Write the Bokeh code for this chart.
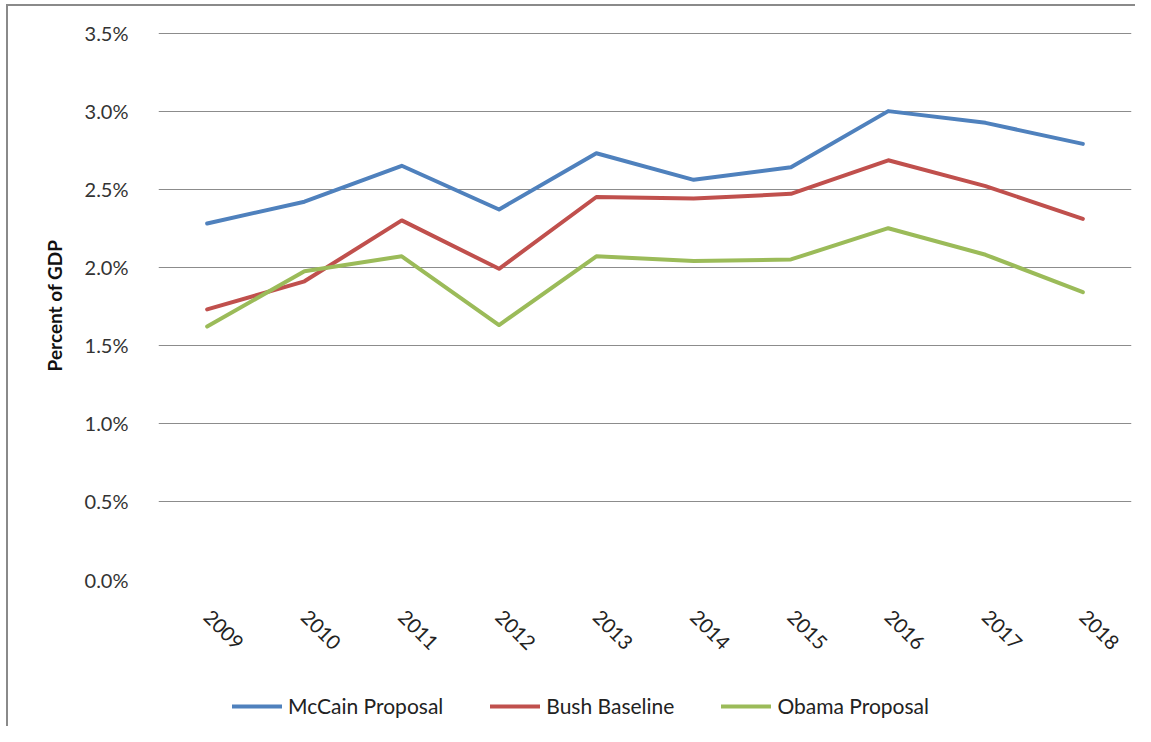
import math
from bokeh.plotting import figure
from bokeh.layouts import column
from bokeh.models import (FactorRange, Range1d, FixedTicker, PrintfTickFormatter,
                          Legend, LegendItem)
from bokeh.embed import file_html
from bokeh.resources import INLINE

years = ["2009", "2010", "2011", "2012", "2013", "2014", "2015", "2016", "2017", "2018"]
mccain = [2.28, 2.42, 2.65, 2.37, 2.73, 2.56, 2.64, 3.00, 2.925, 2.79]
bush = [1.73, 1.91, 2.30, 1.99, 2.45, 2.44, 2.47, 2.685, 2.52, 2.31]
obama = [1.62, 1.975, 2.07, 1.63, 2.07, 2.04, 2.05, 2.25, 2.08, 1.84]
y_ticks = [0.0, 0.5, 1.0, 1.5, 2.0, 2.5, 3.0, 3.5]
series_names = ["McCain Proposal", "Bush Baseline", "Obama Proposal"]
colors = ["#4F81BD", "#C0504D", "#9BBB59"]

FONT = "Lato"
FRAME_CSS = "linear-gradient(#8a8a8a,#8a8a8a)"

p = figure(width=1135, height=670, output_backend="svg", toolbar_location=None,
           x_range=FactorRange(factors=years, range_padding=0),
           y_range=Range1d(0, 3.51),
           min_border_left=158, min_border_right=4, min_border_top=31,
           min_border_bottom=91)
p.styles = {
    "background-image": FRAME_CSS + ", " + FRAME_CSS,
    "background-size": "2px 100%, 100% 2px",
    "background-position": "6px 4px, 6px 4px",
    "background-repeat": "no-repeat",
}

p.outline_line_color = None
p.background_fill_color = "white"
p.border_fill_alpha = 0

# grid
p.xgrid.grid_line_color = None
p.ygrid.grid_line_color = "#8c8c8c"
p.ygrid.grid_line_width = 1
p.ygrid.ticker = FixedTicker(ticks=y_ticks)

# y axis
p.yaxis.ticker = FixedTicker(ticks=y_ticks)
p.yaxis.formatter = PrintfTickFormatter(format="%.1f%%")
p.yaxis.axis_line_color = None
p.yaxis.major_tick_line_color = None
p.yaxis.minor_tick_line_color = None
p.yaxis.major_label_standoff = 24
p.yaxis.major_label_text_font = FONT
p.yaxis.major_label_text_font_size = "20px"
p.yaxis.major_label_text_color = "#333333"
p.yaxis.axis_label = "Percent of GDP"
p.yaxis.axis_label_text_font = FONT
p.yaxis.axis_label_text_font_size = "19px"
p.yaxis.axis_label_text_font_style = "bold"
p.yaxis.axis_label_text_color = "#111111"
p.yaxis.axis_label_standoff = 16

# x axis
p.xaxis.axis_line_color = None
p.xaxis.major_tick_line_color = None
p.xaxis.minor_tick_line_color = None
p.xaxis.major_label_orientation = -math.pi / 4
p.xaxis.major_label_standoff = 28
p.xaxis.major_label_text_font = FONT
p.xaxis.major_label_text_font_size = "20px"
p.xaxis.major_label_text_color = "#222222"

for name, vals, c in zip(series_names, [mccain, bush, obama], colors):
    p.line(x=years, y=vals, line_color=c, line_width=4, line_join="round",
           line_cap="round")

# legend strip below the chart (its lines lie outside its own view, only the
# legend samples show)
p2 = figure(width=1135, height=56, output_backend="svg", toolbar_location=None,
            x_axis_location=None, y_axis_location=None,
            x_range=Range1d(0, 1), y_range=Range1d(0, 1), min_border=0)
p2.styles = {
    "background-image": FRAME_CSS,
    "background-size": "2px 100%",
    "background-position": "6px 0px",
    "background-repeat": "no-repeat",
}
p2.outline_line_color = None
p2.grid.grid_line_color = None
p2.background_fill_alpha = 0
p2.border_fill_alpha = 0

items = []
for name, vals, c in zip(series_names, [mccain, bush, obama], colors):
    r = p2.line(x=list(range(len(vals))), y=vals, line_color=c, line_width=4,
                line_cap="round")
    items.append(LegendItem(label=name, renderers=[r]))

legend = Legend(items=items, location=(74, 8), orientation="horizontal",
                border_line_color=None, background_fill_alpha=0,
                padding=0, margin=0, spacing=47, glyph_width=50, glyph_height=20,
                label_standoff=6, label_text_font=FONT,
                label_text_font_size="21px", label_text_color="#222222",
                label_height=20)
p2.add_layout(legend, "center")

layout = column(p, p2, spacing=0)
open("out.html", "w").write(file_html(layout, INLINE))
